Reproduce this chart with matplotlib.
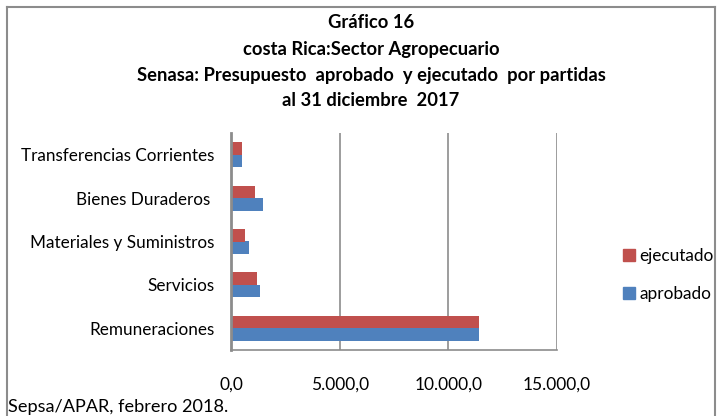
import matplotlib
matplotlib.use("Agg")
import matplotlib.pyplot as plt
from matplotlib.lines import Line2D
from matplotlib.ticker import FuncFormatter
import numpy as np

categories = ["Remuneraciones", "Servicios", "Materiales y Suministros",
              "Bienes Duraderos ", "Transferencias Corrientes"]
aprobado = [11400, 1350, 820, 1490, 490]
ejecutado = [11400, 1180, 660, 1120, 490]
xticks = [0, 5000, 10000, 15000]

plt.rcParams['font.family'] = ['Lato', 'DejaVu Sans']
blue = "#4F81BD"
red = "#C0504D"
grid = "#8C8C8C"

fig = plt.figure(figsize=(7.2, 4.16), dpi=100)
W, H = 720, 416
ax = fig.add_axes([231 / W, 1 - 350 / H, (557 - 231) / W, (350 - 133) / H])

y = np.arange(len(categories))
h = 0.29
ax.barh(y - h / 2, aprobado, height=h, color=blue, label="aprobado", zorder=3)
ax.barh(y + h / 2, ejecutado, height=h, color=red, label="ejecutado", zorder=3)

ax.set_xlim(0, 15000)
ax.set_ylim(-0.5, len(categories) - 0.5)
ax.set_xticks(xticks)
ax.xaxis.set_major_formatter(FuncFormatter(lambda v, p: f"{v:,.1f}".replace(",", "X").replace(".", ",").replace("X", ".")))
ax.set_yticks(y)
ax.set_yticklabels(categories)
ax.tick_params(axis='x', length=0, pad=19, labelsize=12.5, colors="#000000")
ax.tick_params(axis='y', length=0, pad=12, labelsize=12.3)
ax.grid(axis='x', color=grid, linewidth=1.2, zorder=0)
for s in ["top", "right"]:
    ax.spines[s].set_visible(False)
ax.spines["left"].set_color(grid)
ax.spines["left"].set_linewidth(2)
ax.spines["bottom"].set_color(grid)
ax.spines["bottom"].set_linewidth(1.2)
ax.spines["left"].set_zorder(4)

handles = [plt.Rectangle((0, 0), 1, 1, color=red), plt.Rectangle((0, 0), 1, 1, color=blue)]
leg = fig.legend(handles, ["ejecutado", "aprobado"], loc="center left",
                 bbox_to_anchor=(607 / W, 1 - 275 / H), frameon=False,
                 fontsize=12.4, handlelength=0.7, handleheight=0.7,
                 handletextpad=0.3, labelspacing=1.3)

titles = ["Gráfico 16", "costa Rica:Sector Agropecuario",
          "Senasa: Presupuesto  aprobado  y ejecutado  por partidas",
          "al 31 diciembre  2017"]
ys = [23, 49, 75, 101]
for t, yy in zip(titles, ys):
    fig.text(371 / W, 1 - yy / H, t, ha="center", va="center",
             fontsize=13.2, fontweight="bold")

fig.text(8 / W, 1 - 407 / H, "Sepsa/APAR, febrero 2018.", ha="left", va="center", fontsize=13.1)

# outer frame
fr = dict(color=grid, linewidth=1.5, transform=fig.transFigure)
fig.add_artist(Line2D([7 / W, 7 / W], [0, 1 - 7 / H], **fr))
fig.add_artist(Line2D([7 / W, 715 / W], [1 - 7 / H, 1 - 7 / H], **fr))
fig.add_artist(Line2D([715 / W, 715 / W], [1 - 7 / H, 0], **fr))

fig.savefig("out.png", dpi=100)
